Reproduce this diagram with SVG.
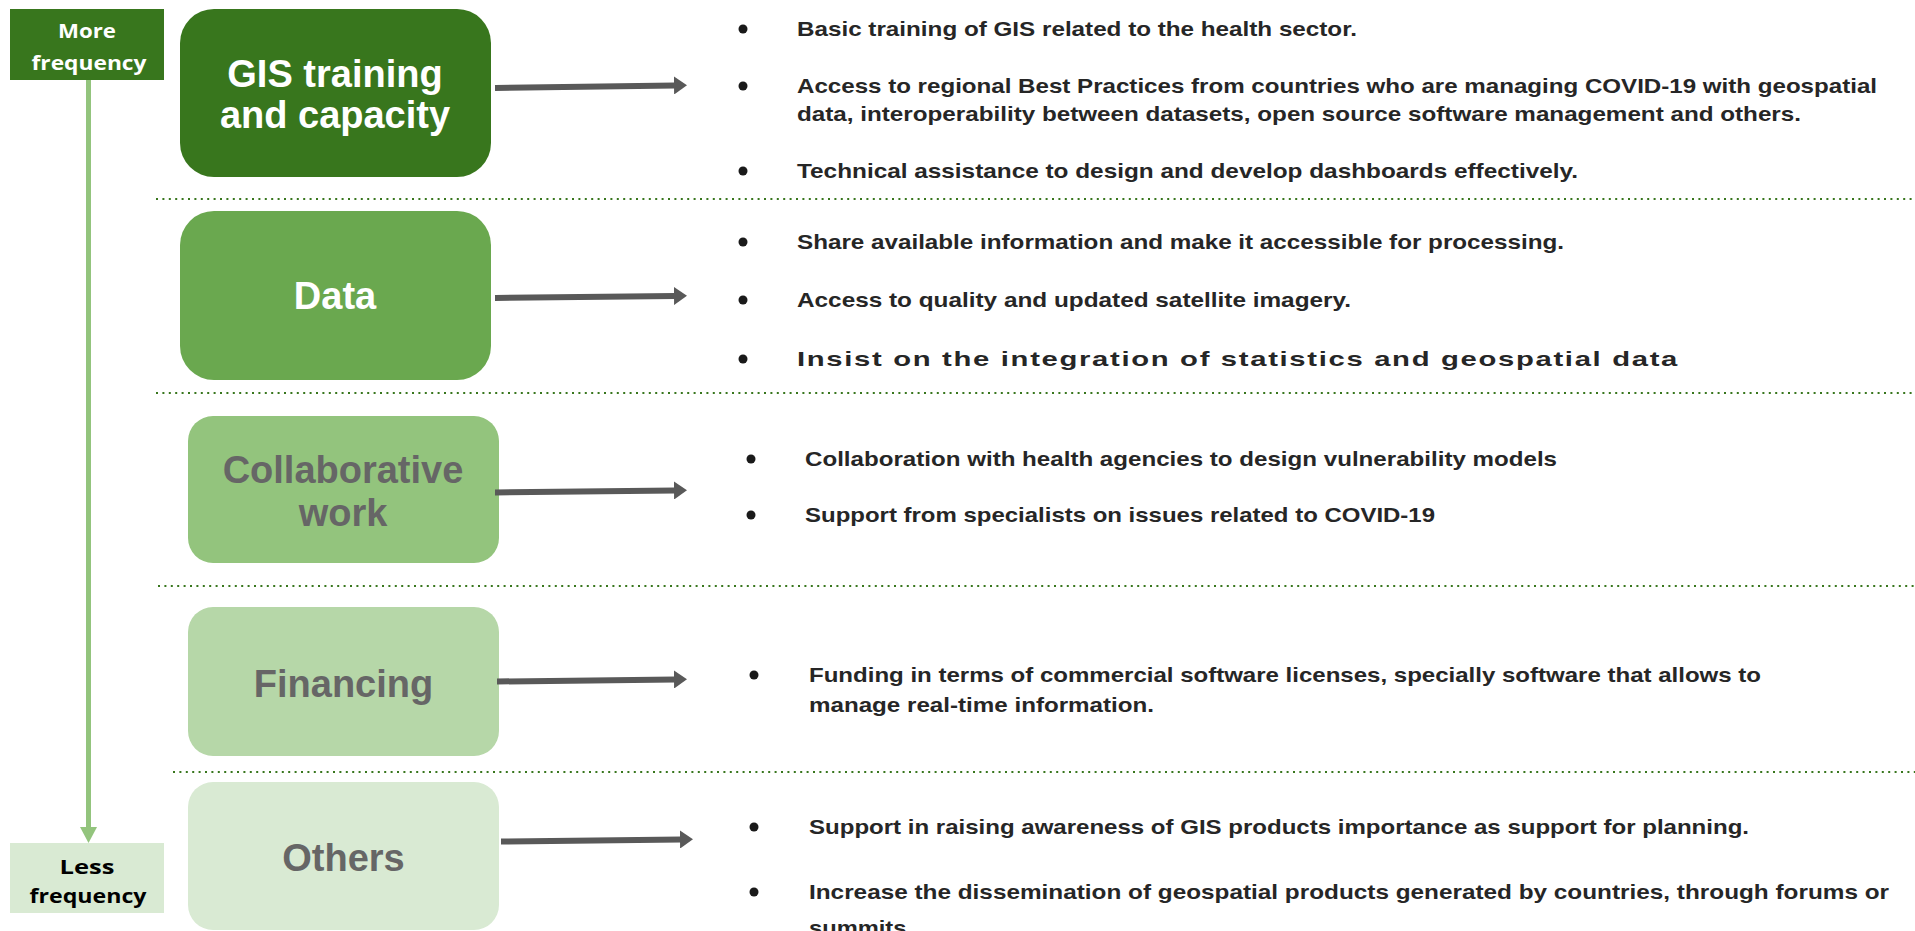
<svg xmlns="http://www.w3.org/2000/svg" width="1915" height="931" viewBox="0 0 1915 931">
  <style>
    .node-title { font-family: "Liberation Sans", Arial, sans-serif; font-weight: bold; font-size: 38px; text-anchor: middle; }
    .light { fill: #ffffff; }
    .grey { fill: #666666; }
    .scale-label { font-family: "Open Sans", "Liberation Sans", sans-serif; font-weight: bold; font-size: 19px; text-anchor: middle; }
    .item { font-family: "Liberation Sans", Arial, sans-serif; font-weight: bold; font-size: 21px; fill: #262626; }
    .bullet { fill: #1a1a1a; }
    .divider { stroke: #38761d; stroke-width: 2; stroke-dasharray: 2 4.4; fill: none; }
    .link { stroke: #595959; stroke-width: 6; fill: none; marker-end: url(#head); }
  </style>
  <defs>
    <marker id="head" markerUnits="userSpaceOnUse" markerWidth="14" markerHeight="18" refX="1" refY="9" orient="auto">
      <path d="M0,0 L13,9 L0,18 Z" fill="#595959"/>
    </marker>
  </defs>

  <rect width="1915" height="931" fill="#ffffff"/>

  <!-- frequency scale -->
  <g id="scale">
    <rect x="86" y="79" width="5" height="752" fill="#93c47d"/>
    <polygon points="80,827 97,827 88.5,843" fill="#93c47d"/>
  </g>
  <g id="more-frequency">
    <rect x="10" y="9" width="154" height="71" fill="#38761d"/>
    <text class="scale-label light" x="87" y="38" textLength="58" lengthAdjust="spacingAndGlyphs">More</text>
    <text class="scale-label light" x="89" y="70" textLength="115" lengthAdjust="spacingAndGlyphs">frequency</text>
  </g>
  <g id="less-frequency">
    <rect x="10" y="843" width="154" height="70" fill="#d9ead3"/>
    <text class="scale-label" fill="#000000" x="87" y="874" textLength="55" lengthAdjust="spacingAndGlyphs">Less</text>
    <text class="scale-label" fill="#000000" x="88" y="903" textLength="117" lengthAdjust="spacingAndGlyphs">frequency</text>
  </g>

  <!-- row dividers -->
  <g id="dividers">
    <line class="divider" x1="156" y1="199" x2="1915" y2="199"/>
    <line class="divider" x1="156" y1="393" x2="1915" y2="393"/>
    <line class="divider" x1="158" y1="586" x2="1915" y2="586"/>
    <line class="divider" x1="173" y1="772" x2="1915" y2="772"/>
  </g>

  <!-- category nodes -->
  <g id="gis-training">
    <rect x="180" y="9" width="311" height="168" rx="34" fill="#38761d"/>
    <text class="node-title light" x="335" y="87">GIS training</text>
    <text class="node-title light" x="335" y="128">and capacity</text>
  </g>
  <g id="data">
    <rect x="180" y="211" width="311" height="169" rx="34" fill="#6aa84f"/>
    <text class="node-title light" x="335" y="309">Data</text>
  </g>
  <g id="collaborative-work">
    <rect x="188" y="416" width="311" height="147" rx="25" fill="#93c47d"/>
    <text class="node-title grey" x="343" y="483">Collaborative</text>
    <text class="node-title grey" x="343" y="526">work</text>
  </g>
  <g id="financing">
    <rect x="188" y="607" width="311" height="149" rx="25" fill="#b6d7a8"/>
    <text class="node-title grey" x="343.5" y="697">Financing</text>
  </g>
  <g id="others">
    <rect x="188" y="782" width="311" height="148" rx="25" fill="#d9ead3"/>
    <text class="node-title grey" x="343.5" y="871">Others</text>
  </g>

  <!-- connectors -->
  <g id="connectors">
    <line class="link" x1="495" y1="88" x2="675" y2="85.5"/>
    <line class="link" x1="495" y1="298" x2="675" y2="296"/>
    <line class="link" x1="495" y1="492.5" x2="675" y2="490.5"/>
    <line class="link" x1="497" y1="681.5" x2="675" y2="679.5"/>
    <line class="link" x1="501" y1="841.5" x2="681" y2="839.5"/>
  </g>

  <!-- item lists -->
  <g id="items-gis">
    <circle class="bullet" cx="743" cy="29" r="4.5"/>
    <text class="item" x="797" y="36" textLength="560" lengthAdjust="spacingAndGlyphs">Basic training of GIS  related to the health sector.</text>
    <circle class="bullet" cx="743" cy="86" r="4.5"/>
    <text class="item" x="797" y="93" textLength="1080" lengthAdjust="spacingAndGlyphs">Access to regional Best Practices from countries who are managing COVID-19 with geospatial</text>
    <text class="item" x="797" y="121" textLength="1004" lengthAdjust="spacingAndGlyphs">data, interoperability between datasets, open source software management and others.</text>
    <circle class="bullet" cx="743" cy="171" r="4.5"/>
    <text class="item" x="797" y="178" textLength="781" lengthAdjust="spacingAndGlyphs">Technical assistance to design and develop dashboards effectively.</text>
  </g>
  <g id="items-data">
    <circle class="bullet" cx="743" cy="242" r="4.5"/>
    <text class="item" x="797" y="249" textLength="767" lengthAdjust="spacingAndGlyphs">Share available  information and make it accessible for processing.</text>
    <circle class="bullet" cx="743" cy="300" r="4.5"/>
    <text class="item" x="797" y="307" textLength="554" lengthAdjust="spacingAndGlyphs">Access to quality and updated satellite imagery.</text>
    <circle class="bullet" cx="743" cy="359" r="4.5"/>
    <text class="item" x="797" y="366" letter-spacing="1.2" textLength="882" lengthAdjust="spacingAndGlyphs">Insist on the integration of statistics and geospatial data</text>
  </g>
  <g id="items-collaborative">
    <circle class="bullet" cx="751" cy="459" r="4.5"/>
    <text class="item" x="805" y="466" textLength="752" lengthAdjust="spacingAndGlyphs">Collaboration with health agencies to design vulnerability models</text>
    <circle class="bullet" cx="751" cy="515" r="4.5"/>
    <text class="item" x="805" y="522" textLength="630" lengthAdjust="spacingAndGlyphs">Support from specialists on issues related to COVID-19</text>
  </g>
  <g id="items-financing">
    <circle class="bullet" cx="754" cy="675" r="4.5"/>
    <text class="item" x="809" y="682" textLength="952" lengthAdjust="spacingAndGlyphs">Funding in  terms of commercial software licenses, specially software that allows to</text>
    <text class="item" x="809" y="712" textLength="345" lengthAdjust="spacingAndGlyphs">manage real-time information.</text>
  </g>
  <g id="items-others">
    <circle class="bullet" cx="754" cy="827" r="4.5"/>
    <text class="item" x="809" y="834" textLength="940" lengthAdjust="spacingAndGlyphs">Support in raising awareness of GIS products importance as support for planning.</text>
    <circle class="bullet" cx="754" cy="892" r="4.5"/>
    <text class="item" x="809" y="899" textLength="1080" lengthAdjust="spacingAndGlyphs">Increase the dissemination of geospatial products generated by countries, through forums or</text>
    <text class="item" x="809" y="935" textLength="104" lengthAdjust="spacingAndGlyphs">summits.</text>
  </g>
</svg>
